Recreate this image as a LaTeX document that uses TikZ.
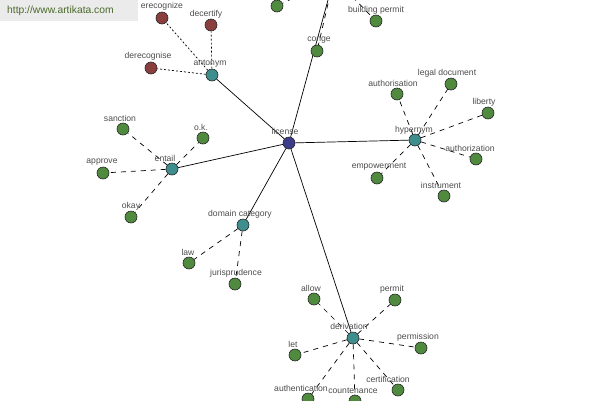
\documentclass[tikz,border=0pt]{standalone}
\usepackage{fontspec}
\setmainfont{Liberation Sans}
\usetikzlibrary{backgrounds}
\definecolor{leafc}{HTML}{4F8A3F}
\definecolor{relc}{HTML}{3E8E8E}
\definecolor{antc}{HTML}{8A3E3E}
\definecolor{rootc}{HTML}{3C3C8A}
\definecolor{urlc}{HTML}{4A6A2A}
\definecolor{boxc}{HTML}{EBEBEB}
\begin{document}
\begin{tikzpicture}[x=1pt,y=-1pt,
  dot/.style={circle,draw=black!85,line width=0.6pt,inner sep=0pt,minimum size=12pt},
  leaf/.style={dot,fill=leafc},
  rel/.style={dot,fill=relc},
  ant/.style={dot,fill=antc},
  root/.style={dot,fill=rootc},
  lbl/.style={font=\fontsize{8.6}{9}\selectfont,text=black!70,inner sep=0pt},
  solidedge/.style={draw=black,line width=0.7pt},
  dashedge/.style={draw=black,line width=0.7pt,dash pattern=on 5pt off 5pt}]
\useasboundingbox (0,0) rectangle (600,400);
\clip (0,0) rectangle (600,400);
% header
\fill[boxc] (0,0) rectangle (138,21);
\node[font=\fontsize{10.3}{12}\selectfont,text=urlc,anchor=west,inner sep=0pt] (url) at (7,11) {http://www.artikata.com};
% nodes
\node[root] (license) at (289,143) {};
\node[rel] (antonym) at (212,75) {};
\node[ant] (erecognize) at (162,18) {};
\node[ant] (decertify) at (211,25) {};
\node[ant] (derecognise) at (151,68) {};
\node[rel] (entail) at (172,169) {};
\node[leaf] (sanction) at (123,129) {};
\node[leaf] (ok) at (203,138) {};
\node[leaf] (approve) at (103,173) {};
\node[leaf] (okay) at (131,217) {};
\node[rel] (domain) at (243,225) {};
\node[leaf] (law) at (189,263) {};
\node[leaf] (juris) at (235,284) {};
\node[rel] (hypernym) at (415,140) {};
\node[leaf] (authorisation) at (397,94) {};
\node[leaf] (legaldoc) at (451,84) {};
\node[leaf] (liberty) at (488,113) {};
\node[leaf] (authorization) at (476,159) {};
\node[leaf] (empowerment) at (377,178) {};
\node[leaf] (instrument) at (444,196) {};
\node[rel] (derivation) at (353,338) {};
\node[leaf] (allow) at (314,299) {};
\node[leaf] (permit) at (395,300) {};
\node[leaf] (permission) at (421,348) {};
\node[leaf] (let) at (295,355) {};
\node[leaf] (certification) at (398,390) {};
\node[leaf] (authentication) at (308,399) {};
\node[leaf] (countenance) at (355,401) {};
\node[rel] (tophub) at (334,-22) {};
\node[leaf] (conge) at (317,51) {};
\node[leaf] (buildingpermit) at (376,21) {};
\node[leaf] (topleft) at (277,6) {};
% edges
\begin{scope}[on background layer]
\foreach \r in {antonym,entail,domain,hypernym,derivation,tophub}
  \path[solidedge] (license) -- (\r);
\foreach \l in {erecognize,decertify,derecognise}
  \path[draw=black,line width=0.7pt,dash pattern=on 2pt off 2pt] (antonym) -- (\l);
\foreach \l in {sanction,ok,approve,okay}
  \path[dashedge] (entail) -- (\l);
\foreach \l in {law,juris}
  \path[dashedge] (domain) -- (\l);
\foreach \l in {authorisation,legaldoc,liberty,authorization,empowerment,instrument}
  \path[dashedge] (hypernym) -- (\l);
\foreach \l in {allow,permit,permission,let,certification,authentication,countenance}
  \path[dashedge] (derivation) -- (\l);
\foreach \l in {conge,buildingpermit,topleft}
  \path[dashedge] (tophub) -- (\l);
\end{scope}
% labels
\node[lbl] (t-license) at (285,131) {license};
\node[lbl] (t-antonym) at (210,64) {antonym};
\node[lbl] (t-erecognize) at (162,6) {erecognize};
\node[lbl] (t-decertify) at (206,14) {decertify};
\node[lbl] (t-derecognise) at (148,56) {derecognise};
\node[lbl] (t-entail) at (165,158) {entail};
\node[lbl] (t-sanction) at (120,118) {sanction};
\node[lbl] (t-ok) at (201,127) {o.k.};
\node[lbl] (t-approve) at (102,162) {approve};
\node[lbl] (t-okay) at (131,206) {okay};
\node[lbl] (t-domain) at (240,214) {domain category};
\node[lbl] (t-law) at (188,252) {law};
\node[lbl] (t-juris) at (236,273) {jurisprudence};
\node[lbl] (t-hypernym) at (414,130) {hypernym};
\node[lbl] (t-authorisation) at (393,83) {authorisation};
\node[lbl] (t-legaldoc) at (447,73) {legal document};
\node[lbl] (t-liberty) at (484,102) {liberty};
\node[lbl] (t-authorization) at (470,148) {authorization};
\node[lbl] (t-empowerment) at (379,167) {empowerment};
\node[lbl] (t-instrument) at (441,185) {instrument};
\node[lbl] (t-derivation) at (349,326) {derivation};
\node[lbl] (t-allow) at (311,288) {allow};
\node[lbl] (t-permit) at (392,289) {permit};
\node[lbl] (t-permission) at (418,337) {permission};
\node[lbl] (t-let) at (293,344) {let};
\node[lbl] (t-certification) at (388,379) {certification};
\node[lbl] (t-authentication) at (301,388) {authentication};
\node[lbl] (t-countenance) at (353,391) {countenance};
\node[lbl] (t-conge) at (319,40) {conge};
\node[lbl] (t-buildingpermit) at (376,10) {building permit};
\end{tikzpicture}
\end{document}
